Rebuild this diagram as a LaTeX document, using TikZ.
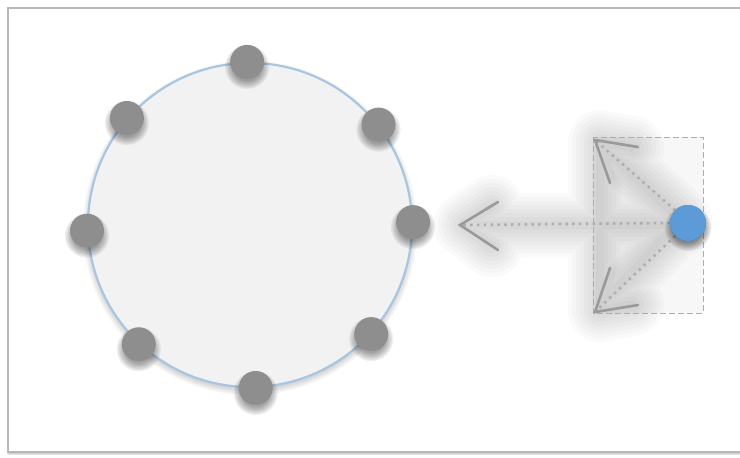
\documentclass[tikz,border=0pt]{standalone}
\usetikzlibrary{calc}
\definecolor{ringfill}{HTML}{F2F2F3}
\definecolor{ringline}{HTML}{A9C6E0}
\definecolor{dotgray}{HTML}{8E8E8E}
\definecolor{bluedot}{HTML}{5C9BD8}
\definecolor{arrowgray}{HTML}{9A9A9A}
\definecolor{framegray}{HTML}{B8B8B8}
\tikzset{
  ring/.style={circle, minimum size=324pt, inner sep=0pt, fill=ringfill, draw=ringline, line width=2.2pt},
  pin/.style={circle, minimum size=34pt, inner sep=0pt, fill=dotgray},
  mover/.style={circle, minimum size=36pt, inner sep=0pt, fill=bluedot},
  dotline/.style={arrowgray!80, line width=2.6pt, dash pattern=on 2.4pt off 4.4pt},
  barb/.style={arrowgray, line width=2.6pt, line cap=round, line join=miter},
  guide/.style={arrowgray!80, line width=1pt, dash pattern=on 6pt off 3pt},
  glowlayer/.style={transparency group, opacity=0.02},
  glowpen/.style={black, line cap=round, line join=round},
  soft/.style={black, opacity=#1},
  frame/.style={draw=framegray, line width=1.5pt, fill=white}
}
\newcommand\softshadow[4]{% coordinate, radius, yshift, opacity
  \foreach \k in {1,...,7}{
    \fill[soft=#4] ($(#1)+(0,#3)$) circle ({#2-4+\k*1.3});
  }
}
\begin{document}
\begin{tikzpicture}[x=1pt,y=-1pt]
\useasboundingbox (0,0) rectangle (740,458);
\fill[white] (0,0) rectangle (740,458);
\foreach \k in {1,...,4}{\draw[soft=0.05, line width=\k pt] (9,10) rectangle (752,453);}
\path[frame] (8,8) rectangle (752,452);

% glow behind the arrows
\foreach \w in {8,16,24,32,40,48,56,64}{
  \begin{scope}[glowlayer]
  \draw[glowpen, line width=\w pt] (472,225) -- (680,225);
  \draw[glowpen, line width=\w pt] (492,207) -- (466,225) -- (492,245);
  \draw[glowpen, line width=\w pt] (632,148) -- (600,142) -- (612,178);
  \draw[glowpen, line width=\w pt] (632,304) -- (600,310) -- (612,272);
  \draw[glowpen, line width=\w pt] (600,145) -- (600,305);
  \draw[glowpen, line width=\w pt] (600,145) -- (680,220) -- (600,305);
  \end{scope}
}

% ring with pins
\coordinate (rc) at (250,225);
\softshadow{rc}{162}{3}{0.03}
\node[ring] (ring) at (rc) {};
\foreach \a [count=\i] in {91,38,1,-42,-88,-133,-178,139}{
  \coordinate (s\i) at (ring.\a);
  \softshadow{s\i}{17}{5}{0.06}
}
\foreach \a [count=\i] in {91,38,1,-42,-88,-133,-178,139}{
  \node[pin] (p\i) at (ring.\a) {};
}

% dashed region
\coordinate (g1) at (593,137);
\coordinate (g2) at (703,313);
\fill[soft=0.03] (g1) rectangle (g2);
\draw[guide] (g1) rectangle (g2);

% arrows
\coordinate (tl) at (460,225);
\coordinate (tu) at (595,140);
\coordinate (td) at (595,312);
\coordinate (bc) at (688,223);
\node[mover] (b) at (bc) {};
\draw[dotline] (b.west) -- (tl);
\draw[dotline] (b.north west) -- (tu);
\draw[dotline] (b.south west) -- (td);
\draw[barb] ($(tl)+(38,-23)$) -- (tl) -- ($(tl)+(38,25)$);
\draw[barb] ($(tu)+(43,7)$) -- (tu) -- ($(tu)+(15,43)$);
\draw[barb] ($(td)+(43,-7)$) -- (td) -- ($(td)+(15,-44)$);
\softshadow{bc}{18}{5}{0.07}
\node[mover] at (bc) {};
\end{tikzpicture}
\end{document}
